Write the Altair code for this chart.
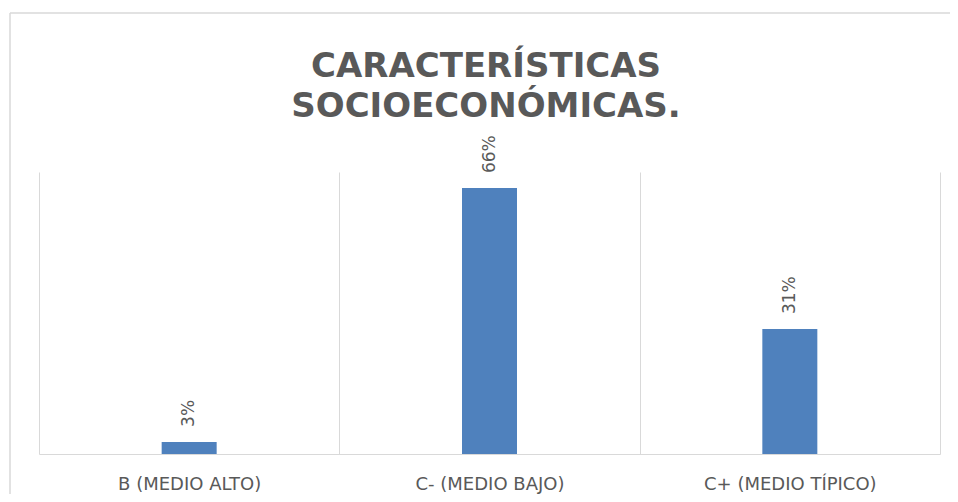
import altair as alt
import pandas as pd

categories = ["B (MEDIO ALTO)", "C- (MEDIO BAJO)", "C+ (MEDIO TÍPICO)"]
values = [0.03, 0.66, 0.31]
title_lines = ["CARACTERÍSTICAS", "SOCIOECONÓMICAS."]

df = pd.DataFrame({"cat": categories, "value": values})
one = pd.DataFrame({"k": [0]})

GRAY = "#595959"
LINE = "#D9D9D9"
FONT = "DejaVu Sans"

x_enc = alt.X(
    "cat:N",
    sort=categories,
    scale=alt.Scale(paddingInner=0, paddingOuter=0),
    axis=alt.Axis(
        title=None,
        tickBand="extent",
        grid=True,
        gridColor=LINE,
        gridWidth=1,
        ticks=False,
        domainColor=LINE,
        domainWidth=1,
        labelFont=FONT,
        labelFontSize=18,
        labelColor=GRAY,
        labelPadding=21,
        labelAngle=0,
    ),
)
y_enc = alt.Y("value:Q", scale=alt.Scale(domain=[0, 0.7]), axis=None)

bars = alt.Chart(df).mark_bar(width=55, color="#4F81BD").encode(x=x_enc, y=y_enc)

labels = alt.Chart(df).mark_text(
    angle=270, align="left", baseline="middle", dx=15,
    font=FONT, fontSize=17, color=GRAY,
).encode(
    x=alt.X("cat:N", sort=categories),
    y="value:Q",
    text=alt.Text("value:Q", format=".0%"),
)

title = alt.Chart(one).mark_text(
    text=title_lines, font=FONT, fontSize=34, fontWeight="bold",
    color=GRAY, align="center", baseline="alphabetic", lineHeight=40,
).encode(x=alt.value(447), y=alt.value(-95))

border_top = alt.Chart(one).mark_rule(color=LINE, strokeWidth=1.5).encode(
    x=alt.value(-29), x2=alt.value(930), y=alt.value(-159)
)
border_left = alt.Chart(one).mark_rule(color=LINE, strokeWidth=1.5).encode(
    x=alt.value(-29), y=alt.value(-159), y2=alt.value(330)
)

chart = alt.layer(border_top, border_left, bars, labels, title).properties(
    width=901,
    height=282,
    autosize=alt.AutoSizeParams(type="none"),
    padding={"left": 31, "top": 164, "right": 10, "bottom": 40},
).configure_view(stroke=None)

chart.save("out.html", embed_options={"renderer": "svg", "actions": False})
